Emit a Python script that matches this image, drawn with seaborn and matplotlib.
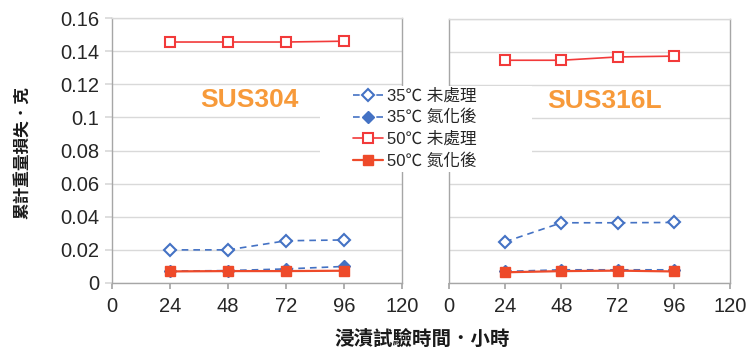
import matplotlib
matplotlib.use("Agg")
import matplotlib.pyplot as plt
from matplotlib.patches import Rectangle
import seaborn as sns
import pandas as pd

sns.set_theme(style="white")
plt.rcParams["font.family"] = ["Liberation Sans", "Noto Sans CJK TC", "DejaVu Sans"]

hours = [24, 48, 72, 96]
series_names = ["35℃ 未處理", "35℃ 氮化後", "50℃ 未處理", "50℃ 氮化後"]

# cumulative weight loss (g), SUS304
sus304_35_raw = [0.020, 0.020, 0.0255, 0.026]
sus304_35_nit = [0.0072, 0.0075, 0.0085, 0.0100]
sus304_50_raw = [0.1455, 0.1455, 0.1455, 0.1460]
sus304_50_nit = [0.0070, 0.0072, 0.0072, 0.0074]

# cumulative weight loss (g), SUS316L
sus316_35_raw = [0.0250, 0.0365, 0.0365, 0.0367]
sus316_35_nit = [0.0070, 0.0080, 0.0080, 0.0080]
sus316_50_raw = [0.1350, 0.1350, 0.1370, 0.1375]
sus316_50_nit = [0.0065, 0.0072, 0.0075, 0.0070]

x_ticks = [0, 24, 48, 72, 96, 120]
y_ticks = [0, 0.02, 0.04, 0.06, 0.08, 0.1, 0.12, 0.14, 0.16]
y_tick_labels = ["0", "0.02", "0.04", "0.06", "0.08", "0.1", "0.12", "0.14", "0.16"]

styles = [
    dict(color="#4472C4", linestyle=(0, (4, 3)), lw=1.2, marker="D", ms=6,
         mfc="white", mec="#4472C4", mew=1.5),
    dict(color="#4472C4", linestyle=(0, (4, 3)), lw=1.2, marker="D", ms=6.5,
         mfc="#4472C4", mec="#4472C4", mew=1),
    dict(color="#F23A3A", linestyle="-", lw=1.2, marker="s", ms=6.5,
         mfc="white", mec="#F23A3A", mew=1.5),
    dict(color="#EE4A2A", linestyle="-", lw=1.6, marker="s", ms=7.5,
         mfc="#EE4A2A", mec="#EE4A2A", mew=1),
]

fig = plt.figure(figsize=(7.46, 3.53), dpi=100)
ax1 = fig.add_axes([112 / 746, 1 - 283 / 353, 290 / 746, 265 / 353])
ax2 = fig.add_axes([449 / 746, 1 - 283 / 353, 281 / 746, 264 / 353])

panels = [
    (ax1, [sus304_35_raw, sus304_35_nit, sus304_50_raw, sus304_50_nit], "SUS304", 57),
    (ax2, [sus316_35_raw, sus316_35_nit, sus316_50_raw, sus316_50_nit], "SUS316L", 66.5),
]

spine_c = "#A6A6A6"
grid_c = "#D9D9D9"

for ax, data, title, tx in panels:
    for name, vals, st in zip(series_names, data, styles):
        df = pd.DataFrame({"hours": hours, "loss": vals})
        sns.lineplot(data=df, x="hours", y="loss", ax=ax, label=name,
                     color=st["color"], linestyle=st["linestyle"], lw=st["lw"],
                     marker=st["marker"], markersize=st["ms"],
                     markerfacecolor=st["mfc"], markeredgecolor=st["mec"],
                     markeredgewidth=st["mew"], legend=False)
    ax.set_xlim(0, 120)
    ax.set_ylim(0, 0.16)
    ax.set_xticks(x_ticks)
    ax.set_yticks(y_ticks)
    ax.yaxis.grid(True, color=grid_c, lw=1)
    ax.set_axisbelow(True)
    ax.set_xlabel("")
    ax.set_ylabel("")
    for s in ax.spines.values():
        s.set_color(spine_c)
        s.set_linewidth(1)
    ax.spines["top"].set_color(grid_c)
    ax.tick_params(axis="x", bottom=True, length=4, color=spine_c,
                   labelsize=14.5, labelcolor="#262626", pad=6)
    ax.text(tx, 0.1105, title, color="#F79A3A", fontsize=19, fontweight="bold",
            ha="center", va="center")

ax1.set_yticklabels(y_tick_labels)
ax1.tick_params(axis="y", left=True, length=5, color=grid_c,
                labelsize=14.5, labelcolor="#262626", pad=4)
ax2.tick_params(axis="y", left=False, labelleft=False)

fig.text(23 / 746, 1 - 152 / 353, "累計重量損失．克", rotation=90, ha="center",
         va="center", fontsize=12, fontweight="bold", color="#1A1A1A")
fig.text(422 / 746, 1 - 340 / 353, "浸漬試驗時間．小時", ha="center", va="center",
         fontsize=14, fontweight="bold", color="#1A1A1A")

# white panel behind the legend
fig.add_artist(Rectangle((320 / 746, 1 - 172 / 353), 212 / 746, 86 / 353,
                         transform=fig.transFigure, facecolor="white",
                         edgecolor="none", zorder=5))

handles, labels = ax1.get_legend_handles_labels()
leg = fig.legend(handles, labels, loc="center left",
                 bbox_to_anchor=(345 / 746, 1 - 128.5 / 353), frameon=False,
                 fontsize=12, handlelength=1.8, handletextpad=0.2,
                 labelspacing=0.38, borderpad=0)
leg.set_zorder(6)

fig.savefig("out.png", dpi=100, facecolor="white")
